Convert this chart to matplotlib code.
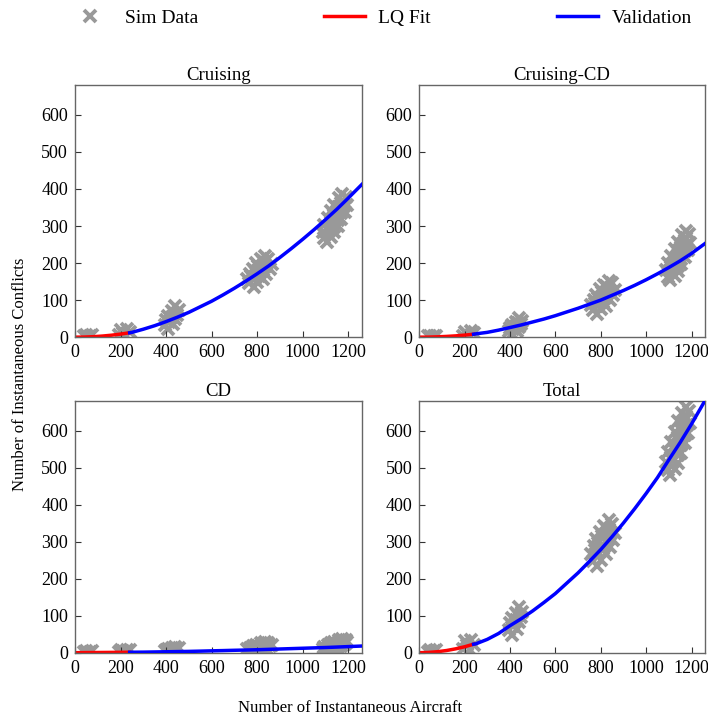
"""
Instantaneous conflicts vs instantaneous aircraft, LQ fit and validation
"""

import matplotlib
matplotlib.use("Agg")
import matplotlib.pyplot as plt
from matplotlib import rcParams
from matplotlib.lines import Line2D

rcParams["font.family"] = ["Liberation Serif", "DejaVu Serif"]
rcParams["font.size"] = 12
rcParams["axes.linewidth"] = 1.0
rcParams["axes.edgecolor"] = "#666666"
rcParams["xtick.direction"] = "in"
rcParams["ytick.direction"] = "in"

PANELS = ["Cruising", "Cruising-CD", "CD", "Total"]

# simulation runs: number of instantaneous aircraft (shared by all panels)
sim_aircraft = [
    40, 65, 50, 75,
    195, 225, 210, 240, 200, 230,
    410, 395, 430, 400, 440, 410, 450, 425, 455, 440, 415, 425, 435,
    785, 765, 800, 755, 790, 825, 770, 805, 840, 780, 815, 855, 795, 830, 865, 815, 850, 835,
    775, 810, 790, 825, 805, 840, 825,
    1105, 1095, 1125, 1088, 1115, 1140, 1095, 1125, 1155, 1110, 1140, 1170,
    1125, 1155, 1185, 1140, 1170, 1195, 1160, 1190, 1175,
    1110, 1140, 1125, 1155, 1140, 1170, 1155, 1180, 1175,
]

# instantaneous conflicts of each run, per category
sim_cruising = [
    2, 3, 5, 5,
    5, 4, 12, 13, 20, 21,
    22, 33, 35, 47, 49, 58, 61, 71, 73, 85, 41, 54, 66,
    136, 145, 148, 158, 161, 157, 171, 174, 170, 185, 188, 184, 199, 202, 197, 210, 212, 219,
    164, 166, 178, 180, 191, 193, 205,
    258, 268, 271, 284, 287, 283, 303, 305, 301, 321, 324, 320,
    340, 343, 338, 358, 362, 357, 376, 378, 386,
    293, 296, 312, 315, 331, 334, 350, 353, 368,
]
sim_cruising_cd = [
    2, 2, 4, 4,
    3, 3, 9, 10, 14, 16,
    9, 16, 18, 25, 27, 33, 35, 42, 44, 51, 21, 31, 39,
    62, 72, 75, 86, 88, 85, 101, 104, 100, 115, 118, 114, 130, 133, 128, 142, 145, 152,
    93, 95, 107, 109, 122, 124, 137,
    154, 163, 166, 180, 183, 178, 199, 202, 197, 219, 222, 217,
    239, 242, 236, 258, 262, 255, 275, 278, 287,
    190, 193, 209, 212, 229, 232, 248, 251, 268,
]
sim_cd = [
    2, 2, 5, 5,
    2, 2, 5, 6, 8, 8,
    2, 4, 5, 7, 8, 10, 11, 13, 13, 16, 6, 9, 11,
    3, 6, 7, 10, 11, 9, 14, 15, 13, 18, 19, 17, 22, 23, 21, 25, 26, 28,
    11, 13, 15, 17, 18, 20, 23,
    4, 7, 8, 11, 12, 10, 16, 17, 15, 20, 21, 19,
    25, 26, 24, 30, 31, 29, 34, 35, 37,
    12, 14, 17, 19, 22, 24, 27, 29, 32,
]
sim_total = [
    3, 4, 8, 8,
    9, 7, 20, 22, 31, 34,
    49, 62, 65, 79, 82, 93, 96, 108, 111, 125, 71, 88, 102,
    234, 248, 252, 268, 272, 267, 288, 292, 286, 307, 312, 305, 327, 332, 325, 344, 349, 360,
    277, 281, 297, 301, 316, 320, 337,
    480, 494, 498, 516, 521, 514, 543, 548, 541, 570, 575, 568,
    598, 603, 595, 626, 630, 622, 650, 654, 666,
    530, 534, 557, 561, 584, 588, 611, 615, 639,
]
sim_values = [sim_cruising, sim_cruising_cd, sim_cd, sim_total]

# LQ fit (training range)
fit_aircraft = [0, 40, 80, 120, 160, 200, 240]
fit_values = [
    [0, 0.3, 1.3, 3, 5.3, 8.3, 12],
    [0, 0.2, 0.9, 2, 3.5, 5.5, 8],
    [0, 0.2, 0.4, 0.6, 0.8, 1, 1.2],
    [0, 0.6, 2.6, 5.8, 10.3, 16, 23],
]

# validation (extrapolated fit)
val_aircraft = [240, 250, 300, 350, 400, 450, 500, 550, 600, 650, 700, 750,
                800, 850, 900, 950, 1000, 1050, 1100, 1150, 1200, 1260]
val_values = [
    [12, 13, 21.5, 31, 42, 54, 67, 82, 97, 114, 132, 151,
     171, 192, 215, 239, 264, 290, 317, 345, 375, 412],
    [8, 9, 13, 19, 26, 33, 41, 49, 58, 68, 78, 89,
     100, 113, 126, 140, 155, 171, 188, 206, 226, 253],
    [1.2, 1.3, 1.5, 2, 2.5, 3, 3.5, 4.2, 5, 5.7, 6.5, 7.2,
     8, 9, 10, 11, 12, 13, 14, 15.2, 16.5, 18],
    [23, 24, 36, 52, 73, 92, 113, 136, 160, 188, 216, 247,
     279, 314, 351, 390, 431, 474, 522, 569, 619, 683],
]

fig = plt.figure(figsize=(7.08, 7.22), dpi=100)
positions = [
    [0.106, 0.533, 0.405, 0.349],
    [0.592, 0.533, 0.404, 0.349],
    [0.106, 0.096, 0.405, 0.348],
    [0.592, 0.096, 0.404, 0.348],
]

for i, name in enumerate(PANELS):
    ax = fig.add_axes(positions[i])
    ax.plot(sim_aircraft, sim_values[i], "x", color="#999999",
            markersize=8.5, markeredgewidth=2.8, zorder=1)
    ax.plot(fit_aircraft, fit_values[i], color="red", linewidth=2.5, zorder=2)
    ax.plot(val_aircraft, val_values[i], color="blue", linewidth=2.5, zorder=3)
    ax.set_xlim([0, 1260])
    ax.set_ylim([0, 680])
    ax.set_xticks([0, 200, 400, 600, 800, 1000, 1200])
    ax.set_yticks([0, 100, 200, 300, 400, 500, 600])
    ax.tick_params(top=False, right=False, length=4, width=0.8,
                   color="#333333", labelsize=13, pad=5)
    ax.set_title(name, fontsize=13.5, pad=4)

fig.text(0.028, 0.482, "Number of Instantaneous Conflicts", rotation=90,
         ha="center", va="center", fontsize=12)
fig.text(0.494, 0.019, "Number of Instantaneous Aircraft",
         ha="center", va="center", fontsize=12)

handles = [
    Line2D([], [], marker="x", linestyle="none", color="#999999",
           markersize=8.5, markeredgewidth=2.8),
    Line2D([], [], color="red", linewidth=2.5),
    Line2D([], [], color="blue", linewidth=2.5),
]
fig.legend(handles, ["Sim Data", "LQ Fit", "Validation"], ncol=3,
           mode="expand", loc="center left", frameon=False,
           bbox_to_anchor=(0.088, 0.975, 0.9, 0.0), fontsize=14,
           handlelength=2.1, handletextpad=0.7, borderaxespad=0)

plt.savefig("out.png", dpi=100)
